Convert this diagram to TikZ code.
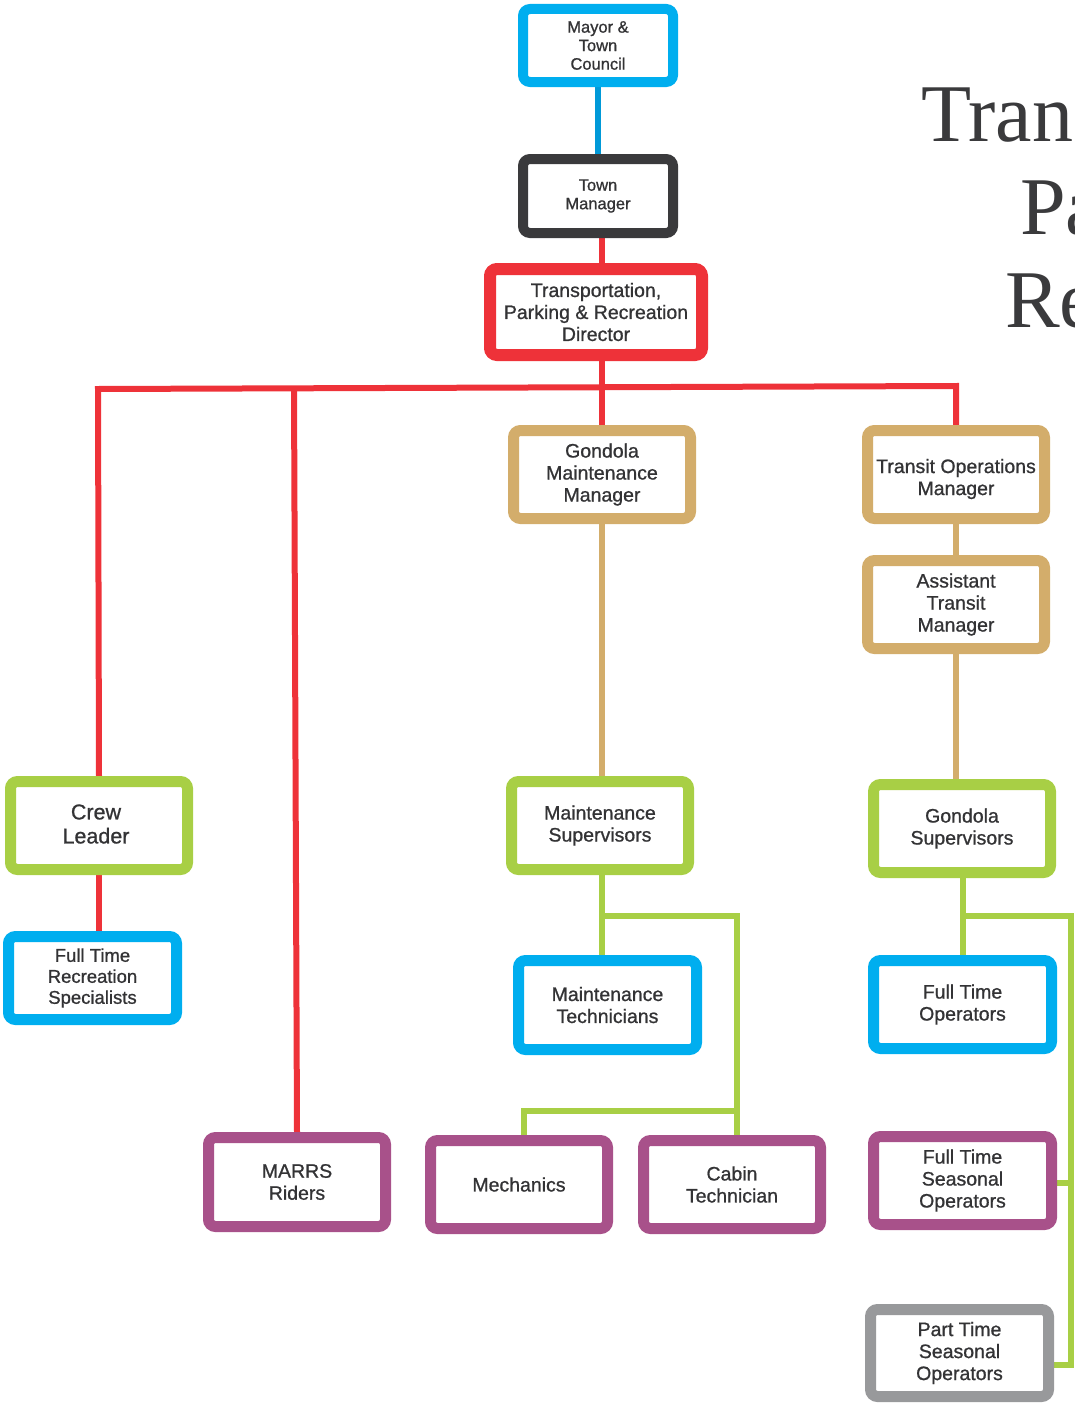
\documentclass[tikz,border=0pt]{standalone}
\usepackage{fontspec}
\setmainfont{Liberation Sans}
\newfontfamily\boxfont{Liberation Sans}[FakeBold=0.9]
\newfontfamily\titlefont{Liberation Serif}
\usetikzlibrary{backgrounds}
\definecolor{ink}{HTML}{333335}
\definecolor{skyc}{HTML}{00AEEF}
\definecolor{bluel}{HTML}{0099D8}
\definecolor{darkc}{HTML}{3A3A3C}
\definecolor{redc}{HTML}{EE3239}
\definecolor{tanc}{HTML}{D3AD6B}
\definecolor{greenc}{HTML}{A8CF45}
\definecolor{purplec}{HTML}{A8518A}
\definecolor{grayc}{HTML}{98999B}
\begin{document}
\begin{tikzpicture}[x=1pt,y=-1pt,
  box/.style={draw, fill=white, line width=11pt, rounded corners=7pt,
    align=center, text=ink, inner sep=0pt,
    minimum width=177pt, minimum height=88pt,
    font=\boxfont\fontsize{19.5}{22}\selectfont},
  small/.style={line width=10pt, minimum width=150pt, minimum height=73pt,
    font=\boxfont\fontsize{16.5}{18.5}\selectfont},
  label text/.style={align=center, text=ink, inner sep=0pt,
    font=\boxfont\fontsize{19.5}{22}\selectfont},
  link/.style={line width=6pt}]
\useasboundingbox (0,0) rectangle (1074,1405);
\clip (0,0) rectangle (1074,1405);

% heading, running off the right edge
\node[anchor=base west, inner sep=0pt, text=darkc, font=\titlefont\fontsize{82}{90}\selectfont] (t1) at (921,141) {Transportation,};
\node[anchor=base west, inner sep=0pt, text=darkc, font=\titlefont\fontsize{82}{90}\selectfont] (t2) at (1020,234) {Parking \&};
\node[anchor=base west, inner sep=0pt, text=darkc, font=\titlefont\fontsize{82}{90}\selectfont] (t3) at (1005,327) {Recreation};

% top of the chain
\node[box, small, draw=skyc] (mayor) at (598,45.5) {Mayor \&\\Town\\Council};
\node[box, small, draw=darkc, minimum height=74pt] (tm) at (598,196) {Town\\Manager};
\node[box, draw=redc, line width=12pt, minimum width=212pt, minimum height=86pt] (dir) at (596,312) {Transportation,\\Parking \& Recreation\\Director};

% managers
\node[box, draw=tanc] (gmm) at (602,474.5) {Gondola\\Maintenance\\Manager};
\node[box, draw=tanc] (tom) at (956,474.5) {};
\node[label text] (tomtext) at (956,479) {Transit Operations\\Manager};
\node[box, draw=tanc] (atm) at (956,604.5) {Assistant\\Transit\\Manager};

% supervisors
\node[box, draw=greenc] (crew) at (99,825.5) {};
\node[label text, font=\boxfont\fontsize{21.5}{24}\selectfont] (crewtext) at (96,824) {Crew\\Leader};
\node[box, draw=greenc] (ms) at (600,825.5) {Maintenance\\Supervisors};
\node[box, draw=greenc] (gs) at (962,828.5) {Gondola\\Supervisors};

% full time staff
\node[box, draw=skyc, minimum width=168pt, minimum height=83pt, font=\boxfont\fontsize{18.5}{21}\selectfont] (ftrs) at (92.5,978) {Full Time\\Recreation\\Specialists};
\node[box, draw=skyc, minimum width=178pt, minimum height=89pt] (mt) at (607.5,1005) {Maintenance\\Technicians};
\node[box, draw=skyc, minimum width=178pt] (fto) at (962.5,1004.5) {Full Time\\Operators};

% field staff
\node[box, draw=purplec, minimum height=89pt] (marrs) at (297,1182) {MARRS\\Riders};
\node[box, draw=purplec] (mech) at (519,1184.5) {Mechanics};
\node[box, draw=purplec] (ct) at (732,1184.5) {Cabin\\Technician};
\node[box, draw=purplec, minimum width=178pt] (fts) at (962.5,1180.5) {Full Time\\Seasonal\\Operators};
\node[box, draw=grayc, minimum width=178pt, minimum height=87pt] (pts) at (959.5,1353) {Part Time\\Seasonal\\Operators};

% branch points
\coordinate (busL) at (98,389);
\coordinate (busM) at (294,388.3);
\coordinate (busR) at (956,386);
\coordinate (g1) at (602,916);
\coordinate (g2) at (737,916);
\coordinate (g3) at (737,1111);
\coordinate (g4) at (524,1111);
\coordinate (h1) at (963,916);
\coordinate (h2) at (1071,916);
\coordinate (h3) at (1071,1183);
\coordinate (h4) at (1071,1365);

\begin{scope}[on background layer]
  \draw[link, bluel] (mayor.south) -- (tm.north);
  \draw[link, redc] (tm.south -| gmm.north) -- (dir.north -| gmm.north);
  \draw[link, redc] (dir.south -| gmm.north) -- (gmm.north);
  \draw[link, redc, line join=miter] (crew.north) -- (busL) -- (busR) -- (tom.north);
  \draw[link, redc] (busM) -- (marrs.north);
  \draw[link, redc] (crew.south) -- (crew.south |- ftrs.north);
  \draw[link, tanc] (gmm.south) -- (gmm.south |- ms.north);
  \draw[link, tanc] (tom.south) -- (atm.north);
  \draw[link, tanc] (atm.south) -- (atm.south |- gs.north);
  \draw[link, greenc] (ms.south -| g1) -- (mt.north -| g1);
  \draw[link, greenc, line join=miter] (g1) -- (g2) -- (ct.north -| g2);
  \draw[link, greenc, line join=miter] (g3) -- (g4) -- (mech.north -| g4);
  \draw[link, greenc] (gs.south -| h1) -- (fto.north -| h1);
  \draw[link, greenc, line join=miter] (h1) -- (h2) -- (h4) -- (pts.east |- h4);
  \draw[link, greenc] (h3) -- (fts.east |- h3);
\end{scope}
\end{tikzpicture}
\end{document}
